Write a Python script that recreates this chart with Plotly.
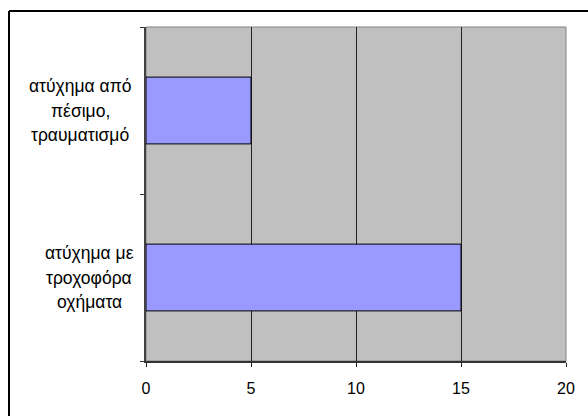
import plotly.graph_objects as go

# Categories (bottom to top) and their counts
categories = ["ατύχημα με τροχοφόρα οχήματα", "ατύχημα από πέσιμο, τραυματισμό"]
label_lines = [["ατύχημα με", "τροχοφόρα", "οχήματα"],
               ["ατύχημα από", "πέσιμο,", "τραυματισμό"]]
values = [15, 5]
x_ticks = [0, 5, 10, 15, 20]

W, H = 588, 416
L, R, T, B = 146, 22, 27, 55
pw, ph = W - L - R, H - T - B

FONT = "Liberation Sans, Arial, sans-serif"

fig = go.Figure(go.Bar(
    x=values, y=categories, orientation="h",
    width=0.4,
    marker=dict(color="#9999FF", line=dict(color="#000000", width=1)),
    hoverinfo="x+y",
))

# Multi-line category labels with generous line spacing
label_center_px = [89, 80]
annotations = []
for cat, lines, cx in zip(categories, label_lines, label_center_px):
    for i, line in enumerate(lines):
        annotations.append(dict(
            text=line, xref="paper", yref="y",
            x=(cx - L) / pw, y=cat, xanchor="center", yanchor="middle",
            yshift=(1 - i) * 24.5, showarrow=False,
            font=dict(family=FONT, size=17.5, color="#000000"),
        ))


def px_x(p):
    return (p - L) / pw


def px_y(p):
    return (H - B - p) / ph


shapes = [
    # gray frame around plot area
    dict(type="rect", xref="paper", yref="paper", x0=0, x1=1, y0=0, y1=1,
         line=dict(color="#808080", width=1), fillcolor="rgba(0,0,0,0)", layer="below"),
    # outer chart border (left and top edges; the rest runs off the canvas)
    dict(type="line", xref="paper", yref="paper",
         x0=px_x(9), x1=px_x(9), y0=px_y(H), y1=px_y(11),
         line=dict(color="#000000", width=2)),
    dict(type="line", xref="paper", yref="paper",
         x0=px_x(9), x1=px_x(W), y0=px_y(11), y1=px_y(11),
         line=dict(color="#000000", width=2)),
]

fig.update_layout(
    width=W, height=H,
    margin=dict(l=L, r=R, t=T, b=B, pad=0),
    paper_bgcolor="#FFFFFF", plot_bgcolor="#C0C0C0",
    showlegend=False,
    annotations=annotations,
    shapes=shapes,
    font=dict(family=FONT, size=16, color="#000000"),
)
fig.update_xaxes(
    range=[0, 20], tickvals=x_ticks, ticktext=[str(v) for v in x_ticks],
    showgrid=True, gridcolor="#222222", gridwidth=1,
    showline=True, linecolor="#333333", linewidth=1.5,
    ticks="outside", ticklen=4, tickcolor="#222222",
    ticklabelstandoff=8, zeroline=False,
    tickfont=dict(family=FONT, size=16, color="#000000"),
)
fig.update_yaxes(
    type="category", categoryorder="array", categoryarray=categories,
    range=[-0.5, 1.5], tickson="boundaries",
    showticklabels=False, showgrid=False, zeroline=False,
    showline=True, linecolor="#404040", linewidth=1.5,
    ticks="outside", ticklen=4, tickcolor="#333333",
)

fig.write_html("out.html")
